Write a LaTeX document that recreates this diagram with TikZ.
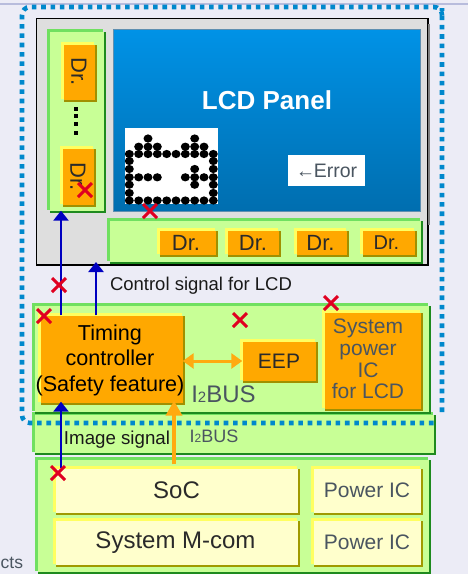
\documentclass[tikz,border=0pt]{standalone}
\usepackage{fontspec}
\setmainfont{Liberation Sans}
\usetikzlibrary{arrows.meta,calc}
\definecolor{bgc}{HTML}{ECECF6}
\definecolor{topline}{HTML}{B8BCDC}
\definecolor{grM}{HTML}{C8FF96}\definecolor{grL}{HTML}{70E060}\definecolor{grD}{HTML}{1E8A1E}
\definecolor{orM}{HTML}{FFA800}\definecolor{orL}{HTML}{FFFF60}\definecolor{orD}{HTML}{A09000}
\definecolor{yeM}{HTML}{FFFFCC}\definecolor{yeL}{HTML}{FFFF60}\definecolor{yeD}{HTML}{A09A00}
\definecolor{inkg}{HTML}{4A5560}\definecolor{inkd}{HTML}{2A2A2A}
\definecolor{dotblue}{HTML}{0088CC}\definecolor{crossred}{HTML}{E00020}
\definecolor{sigblue}{HTML}{0000C0}\definecolor{sigor}{HTML}{FFAA10}
\definecolor{panelT}{HTML}{0092E6}\definecolor{panelB}{HTML}{006EAF}\definecolor{panelE}{HTML}{5F8FB0}
\newcommand\fs[2]{\fontsize{#1}{#2}\selectfont}
% name, x1, y1, x2, y2, colour prefix, node options, text
\newcommand\bbox[8]{%
  \fill[#6D] ({#2+3},{#3+3}) rectangle (#4,#5);
  \fill[#6L] (#2,#3) rectangle ({#4-3},{#5-3});
  \node[fill=#6M,inner sep=0pt,anchor=center,align=center,
        minimum width={(#4-#2-5)*1pt},minimum height={(#5-#3-5)*1pt},#7]
        (#1) at ({(#2+#4)/2},{(#3+#5)/2}) {#8};}
\newcommand\xmark[1]{\draw[crosssty] ($(#1)+(-7,-7)$) -- ($(#1)+(7,7)$) ($(#1)+(7,-7)$) -- ($(#1)+(-7,7)$);}
\tikzset{
  crosssty/.style={crossred,line width=3pt},
  blueflow/.style={sigblue,line width=2.7pt,-{Triangle[length=10pt,width=15pt]}},
  orflow/.style={sigor,line width=3.5pt,-{Triangle[length=15pt,width=16pt]}},
  orboth/.style={sigor,line width=3pt,{Triangle[length=11pt,width=15pt]}-{Triangle[length=11pt,width=15pt]}},
  labelg/.style={text=inkg},
  labeld/.style={text=inkd},
  plain/.style={inner sep=0pt,anchor=center,align=center},
  pix/.style={black}
}
\begin{document}
\begin{tikzpicture}[x=1pt,y=-1pt]
\useasboundingbox (0,0) rectangle (468,574);
\fill[bgc] (0,0) rectangle (468,574);
\fill[topline] (0,3) rectangle (468,4.5);
% LCD module
\draw[black,fill=black!13,line width=1.5pt] (36.5,18.5) rectangle (428,265);
\draw[gray,line width=2pt] (429,24) -- (429,225);
\bbox{leftdrv}{47}{29}{106}{213}{gr}{}{}
\bbox{drA}{61}{42}{97}{102}{or}{labeld,font=\fs{22}{26}}{\rotatebox{-90}{Dr.}}
\bbox{drB}{60}{146}{96}{207}{or}{labeld,font=\fs{22}{26}}{\rotatebox{-90}{Dr.}}
\foreach \yy in {109,116,124,133} \fill[black] (74,\yy-2.5) rectangle (78,\yy+1.5);
\node[draw=panelE,line width=0.6pt,inner sep=0pt,minimum width=307pt,minimum height=182pt,top color=panelT,bottom color=panelB] (panel) at (267,120.5) {};
\node[plain,text=white,font=\bfseries\fs{26}{30}] (title) at (267,100) {LCD Panel};
\fill[white] (125,128) rectangle (218,204);
\foreach \cx/\cy in {148/138.5,194.7/138.5,
 138.7/146.7,148/146.7,157.3/146.7,185.3/146.7,194.7/146.7,204/146.7,
 129.3/154,138.7/154,148/154,157.3/154,166.7/154,176/154,185.3/154,194.7/154,204/154,213.3/154,
 129.3/161,213.3/161,
 129.3/169,194.7/169,213.3/169,
 129.3/177.3,138.7/177.3,148/177.3,157.3/177.3,185.3/177.3,194.7/177.3,204/177.3,213.3/177.3,
 129.3/184.7,194.7/184.7,213.3/184.7,
 129.3/193,213.3/193,
 129.3/200.5,138.7/200.5,148/200.5,157.3/200.5,166.7/200.5,176/200.5,185.3/200.5,194.7/200.5,204/200.5,213.3/200.5}
  \fill[pix] (\cx,\cy) ellipse [x radius=4.5,y radius=4.1];
\node[fill=white,plain,labelg,minimum width=77pt,minimum height=31pt,font=\fs{19.5}{24}] (err) at (326.5,170.5) {←\kern-1.5pt Error};
\bbox{botdrv}{107}{218}{423}{264}{gr}{}{}
\bbox{drC}{157}{228}{218}{257}{or}{labeld,font=\fs{22}{26}}{\hspace*{-3pt}Dr.}
\bbox{drD}{225}{228}{281}{257}{or}{labeld,font=\fs{22}{26}}{Dr.}
\bbox{drE}{294}{228}{349}{257}{or}{labeld,font=\fs{22}{26}}{\hspace*{-2pt}Dr.}
\bbox{drF}{360}{228}{417}{257}{or}{labeld,font=\fs{20}{24}}{\hspace*{-4pt}Dr.}
\node[plain,text=black!90,font=\fs{18.5}{22}] (ctrl) at (201,286) {Control signal for LCD};
% board
\bbox{strip}{32}{412}{436}{455}{gr}{}{}
\bbox{board}{32}{303}{431}{414}{gr}{}{}
\bbox{timing}{38}{313}{185}{405}{or}{}{}
\node[plain,text=black,font=\fs{21.6}{25.5}] (timingtext) at (110,360) {Timing\\controller\\(Safety feature)};
\bbox{eep}{240}{339}{318}{383}{or}{labeld,font=\fs{21}{26}}{EEP}
\bbox{syspow}{322}{310}{423}{411}{or}{}{}
\node[plain,labelg,font=\fs{21}{21.7}] (syspowtext) at (368,359) {System\\power\\IC\\for LCD};
\node[plain,labelg,font=\fs{24}{28}] (bustop) at (223.5,394) {I{\fontsize{15}{18}\selectfont 2}BUS};
\node[plain,labelg,font=\fs{18}{21}] (buslow) at (214,436) {I{\fontsize{12}{14}\selectfont 2}BUS};
\node[plain,text=black!90,font=\fs{18.7}{22}] (imgsig) at (117,440) {Image signal};
% lower board
\bbox{lower}{35}{457}{431}{574}{gr}{}{}
\bbox{soc}{53}{466}{300}{515}{ye}{labeld,font=\fs{24}{28}}{SoC}
\bbox{mcom}{53}{518}{300}{567}{ye}{}{}
\node[plain,labeld,font=\fs{24}{28}] (mcomtext) at (175.5,542.5) {System M-com};
\bbox{pwrA}{311}{466}{423}{515}{ye}{labelg,font=\fs{21}{25}}{Power IC}
\bbox{pwrB}{311}{518}{423}{567}{ye}{labelg,font=\fs{21}{25}}{Power IC}
\node[plain,anchor=west,labelg,font=\fs{17.5}{21}] (cts) at (0.5,563) {cts};
% dotted boundary
\draw[dotblue,line width=4.6pt,dash pattern=on 4.6pt off 4.73pt,rounded corners=8pt]
  (442,412) -- (442,16) -- (442,7) -- (22,7) -- (22,423) -- (438,423);
% connectors
\coordinate (xa) at (61,0);
\coordinate (xb) at (96,0);
\coordinate (xc) at (174,0);
\coordinate (ctrlend) at (96,262);
\draw[blueflow] (timing.north -| xa) -- (leftdrv.south -| xa);
\draw[blueflow] (timing.north -| xb) -- (ctrlend);
\draw[blueflow] (soc.north -| xa) -- ($(timing.south -| xa)+(0,-1)$);
\draw[orflow] ($(soc.north -| xc)+(0,-4)$) -- ($(timing.south -| xc)+(0,-2)$);
\draw[orboth] (timing.east |- eep.west) -- (eep.west);
% error marks
\coordinate (m1) at (85,190);\coordinate (m2) at (150,211);\coordinate (m3) at (59,285);
\coordinate (m4) at (44,316);\coordinate (m5) at (58,473);\coordinate (m6) at (240,320);
\coordinate (m7) at (331,303);
\xmark{m1}\xmark{m2}\xmark{m3}\xmark{m4}\xmark{m5}\xmark{m6}\xmark{m7}
\end{tikzpicture}
\end{document}
